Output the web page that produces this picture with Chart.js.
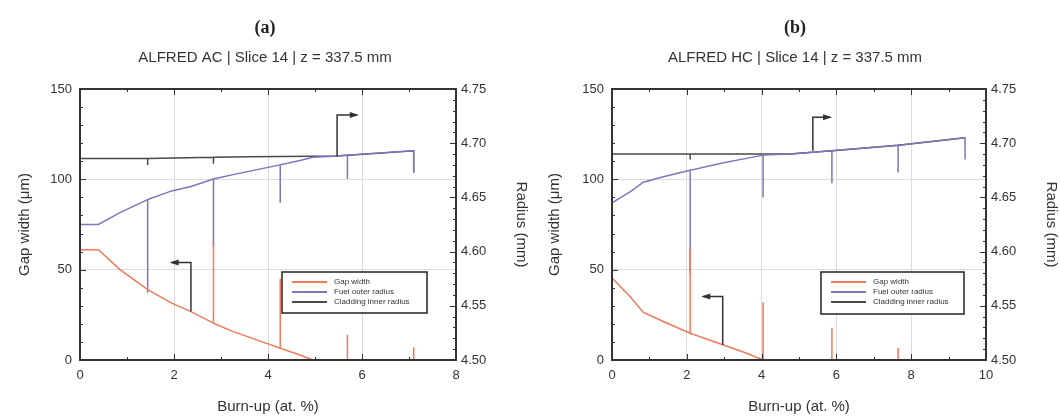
<!DOCTYPE html>
<html>
<head>
<meta charset="utf-8">
<script src="https://cdn.jsdelivr.net/npm/chart.js@4.4.1/dist/chart.umd.min.js"></script>
<style>
  html, body { margin: 0; padding: 0; background: #fff; }
  #wrap { display: flex; width: 1060px; height: 417px; }
  canvas { display: block; }
</style>
</head>
<body>
<div id="wrap">
  <canvas id="chartA" width="530" height="417"></canvas>
  <canvas id="chartB" width="530" height="417"></canvas>
</div>
<script>
// ---- (a) ALFRED AC, slice 14 ----
// burn-up (at. %) and values; repeated burn-up points are the spikes in the curves
const gapA_bu  = [0, 0.39, 0.85, 1.44, 1.95, 2.36, 2.84, 2.84, 2.84, 3.26, 4.26, 4.26, 4.26, 4.68, 4.95, 5.69, 5.69, 5.69, 7.1, 7.1];
const gapA_um  = [61, 61, 50, 38.9, 31.5, 26.8, 20.4, 65, 20.4, 15.7, 6.5, 45, 6.5, 2.8, 0, 0, 14, 0, 0, 7];
const fuelA_bu = [0, 0.39, 0.85, 1.44, 1.44, 1.44, 1.95, 2.36, 2.84, 2.84, 2.84, 3.26, 4.26, 4.26, 4.26, 4.68, 4.95, 5.4, 5.69, 5.69, 5.69, 7.1, 7.1];
const fuelA_mm = [4.625, 4.625, 4.636, 4.648, 4.562, 4.648, 4.656, 4.660, 4.667, 4.605, 4.667, 4.671, 4.680, 4.645, 4.680, 4.684, 4.687, 4.688, 4.689, 4.667, 4.689, 4.693, 4.673];
const cladA_bu = [0, 1.44, 1.44, 1.44, 2.84, 2.84, 2.84, 3.6, 4.95, 5.4, 7.1, 7.1];
const cladA_mm = [4.686, 4.686, 4.680, 4.686, 4.687, 4.681, 4.687, 4.6875, 4.688, 4.688, 4.693, 4.673];

// ---- (b) ALFRED HC, slice 14 ----
const gapB_bu  = [0, 0, 0.48, 0.84, 1.37, 2.09, 2.09, 2.09, 2.98, 3.60, 4.04, 4.04, 4.04, 5.88, 5.88, 5.88, 7.65, 7.65, 7.65, 9.44];
const gapB_um  = [51, 45.4, 35.2, 26.3, 21.3, 14.8, 62, 14.8, 8.3, 3.7, 0, 32, 0, 0, 17.8, 0, 0, 6.7, 0, 0];
const fuelB_bu = [0, 0.48, 0.84, 1.37, 2.09, 2.09, 2.09, 2.98, 3.60, 4.04, 4.04, 4.04, 4.76, 5.88, 5.88, 5.88, 7.65, 7.65, 7.65, 9.2, 9.44, 9.44];
const fuelB_mm = [4.645, 4.655, 4.664, 4.669, 4.675, 4.58, 4.675, 4.682, 4.686, 4.689, 4.65, 4.689, 4.690, 4.693, 4.663, 4.693, 4.698, 4.673, 4.698, 4.704, 4.705, 4.685];
const cladB_bu = [0, 2.09, 2.09, 2.09, 4.04, 4.76, 5.88, 7.65, 9.2, 9.44];
const cladB_mm = [4.690, 4.690, 4.685, 4.690, 4.690, 4.690, 4.693, 4.698, 4.704, 4.705];

const seriesLabels = ['Gap width', 'Fuel outer radius', 'Cladding inner radius'];
const seriesColors = ['#ef7a5c', '#7f74bd', '#4a4a4a'];

Chart.defaults.font.family = "'Liberation Sans', Arial, sans-serif";
Chart.defaults.color = '#333';

function pts(xs, ys) {
  return xs.map((x, i) => ({ x: x, y: ys[i] }));
}

// frame round the plot area, with inward minor ticks on all four sides
const framePlugin = {
  id: 'frame',
  afterDatasetsDraw(chart) {
    const { ctx, chartArea: a, scales } = chart;
    ctx.save();
    ctx.strokeStyle = '#333';
    ctx.lineWidth = 1;
    const marks = (scale, step, major, fn) => {
      for (let v = scale.min; v <= scale.max + 1e-9; v += step) {
        const r = Math.abs(v / major - Math.round(v / major)) < 1e-6;
        fn(Math.round(scale.getPixelForValue(v)) + 0.5, r ? 6 : 3);
      }
    };
    ctx.beginPath();
    marks(scales.x, 1, 2, (p, l) => {
      ctx.moveTo(p, a.bottom); ctx.lineTo(p, a.bottom - l);
      ctx.moveTo(p, a.top); ctx.lineTo(p, a.top + l);
    });
    marks(scales.y, 10, 50, (p, l) => {
      ctx.moveTo(a.left, p); ctx.lineTo(a.left + l, p);
    });
    marks(scales.y1, 0.01, 0.05, (p, l) => {
      ctx.moveTo(a.right, p); ctx.lineTo(a.right - l, p);
    });
    ctx.stroke();
    ctx.lineWidth = 2;
    ctx.strokeRect(a.left, a.top, a.right - a.left, a.bottom - a.top);
    ctx.restore();
  }
};

// L-shaped arrows telling which axis a curve belongs to
const arrowPlugin = {
  id: 'arrows',
  afterDatasetsDraw(chart, args, opts) {
    const { ctx, scales } = chart;
    ctx.save();
    ctx.strokeStyle = '#333';
    ctx.fillStyle = '#333';
    ctx.lineWidth = 1.5;
    (opts.list || []).forEach(arrow => {
      const ys = scales[arrow.axis];
      const p = arrow.pts.map(d => [scales.x.getPixelForValue(d[0]), ys.getPixelForValue(d[1])]);
      ctx.beginPath();
      ctx.moveTo(p[0][0], p[0][1]);
      for (let i = 1; i < p.length; i++) ctx.lineTo(p[i][0], p[i][1]);
      ctx.stroke();
      const [x1, y1] = p[p.length - 2];
      const [x2, y2] = p[p.length - 1];
      const ang = Math.atan2(y2 - y1, x2 - x1);
      ctx.beginPath();
      ctx.moveTo(x2 + 2 * Math.cos(ang), y2 + 2 * Math.sin(ang));
      ctx.lineTo(x2 - 7 * Math.cos(ang) + 3 * Math.sin(ang), y2 - 7 * Math.sin(ang) - 3 * Math.cos(ang));
      ctx.lineTo(x2 - 7 * Math.cos(ang) - 3 * Math.sin(ang), y2 - 7 * Math.sin(ang) + 3 * Math.cos(ang));
      ctx.closePath();
      ctx.fill();
    });
    ctx.restore();
  }
};

// boxed legend inside the plot area, lower right
const boxLegendPlugin = {
  id: 'boxLegend',
  afterDraw(chart, args, opts) {
    const { ctx, chartArea: a } = chart;
    const w = opts.width, h = opts.height;
    const x0 = a.right - opts.right - w;
    const y0 = a.bottom - opts.bottom - h;
    ctx.save();
    ctx.fillStyle = '#fff';
    ctx.fillRect(x0, y0, w, h);
    ctx.strokeStyle = '#222';
    ctx.lineWidth = 1.5;
    ctx.strokeRect(x0, y0, w, h);
    ctx.font = "8px 'Liberation Sans', Arial, sans-serif";
    ctx.textBaseline = 'middle';
    chart.data.datasets.forEach((ds, i) => {
      const y = y0 + 10 + i * 10;
      ctx.strokeStyle = ds.borderColor;
      ctx.lineWidth = 2;
      ctx.beginPath();
      ctx.moveTo(x0 + 10, y);
      ctx.lineTo(x0 + 45, y);
      ctx.stroke();
      ctx.fillStyle = '#333';
      ctx.fillText(ds.label, x0 + 52, y);
    });
    ctx.restore();
  }
};

function makeChart(id, opt) {
  const datasets = opt.series.map((s, i) => ({
    label: seriesLabels[i],
    data: pts(s[0], s[1]),
    yAxisID: i === 0 ? 'y' : 'y1',
    borderColor: seriesColors[i],
    backgroundColor: seriesColors[i],
    borderWidth: 1.5,
    pointRadius: 0,
    tension: 0,
    fill: false
  }));
  return new Chart(document.getElementById(id), {
    type: 'line',
    data: { datasets: datasets },
    plugins: [framePlugin, arrowPlugin, boxLegendPlugin],
    options: {
      responsive: false,
      animation: false,
      layout: { padding: 0 },
      plugins: {
        legend: { display: false },
        tooltip: { enabled: false },
        title: {
          display: true,
          text: opt.title,
          color: '#222',
          font: { family: "'Liberation Serif', 'DejaVu Serif', serif", size: 18, weight: 'bold', lineHeight: '20px' },
          padding: { top: 18, bottom: 0 }
        },
        subtitle: {
          display: true,
          text: opt.subtitle,
          color: '#333',
          font: { size: 15, lineHeight: '16px' },
          padding: { top: 12, bottom: 23 }
        },
        arrows: { list: opt.arrows },
        boxLegend: opt.legend
      },
      scales: {
        x: {
          type: 'linear',
          min: 0,
          max: opt.xMax,
          afterFit(s) { s.height = 57; },
          ticks: { stepSize: 2, padding: 8, font: { size: 13 }, color: '#333' },
          grid: { color: '#dcdcdc', lineWidth: 1, drawTicks: false },
          border: { display: false },
          title: { display: true, text: 'Burn-up (at. %)', font: { size: 15 }, color: '#333', padding: { top: 0, bottom: 1 } }
        },
        y: {
          position: 'left',
          min: 0,
          max: 150,
          afterFit(s) { s.width = opt.leftWidth; },
          ticks: { stepSize: 50, padding: 8, font: { size: 13 }, color: '#333' },
          grid: { color: '#dcdcdc', lineWidth: 1, drawTicks: false },
          border: { display: false },
          title: { display: true, text: 'Gap width (μm)', font: { size: 15 }, color: '#333', padding: { top: 16, bottom: 0 } }
        },
        y1: {
          position: 'right',
          min: 4.5,
          max: 4.75,
          afterFit(s) { s.width = 74; },
          ticks: { stepSize: 0.05, padding: 5, font: { size: 13 }, color: '#333', callback: v => v.toFixed(2) },
          grid: { drawOnChartArea: false, drawTicks: false },
          border: { display: false },
          title: { display: true, text: 'Radius (mm)', font: { size: 15 }, color: '#333', padding: { top: 0, bottom: 0 } }
        }
      }
    }
  });
}

makeChart('chartA', {
  title: '(a)',
  subtitle: 'ALFRED AC | Slice 14 | z = 337.5 mm',
  xMax: 8,
  leftWidth: 80,
  series: [[gapA_bu, gapA_um], [fuelA_bu, fuelA_mm], [cladA_bu, cladA_mm]],
  arrows: [
    { axis: 'y', pts: [[2.36, 26.8], [2.36, 54], [1.95, 54]] },
    { axis: 'y1', pts: [[5.47, 4.688], [5.47, 4.726], [5.89, 4.726]] }
  ],
  legend: { right: 29, bottom: 47, width: 145, height: 41 }
});

makeChart('chartB', {
  title: '(b)',
  subtitle: 'ALFRED HC | Slice 14 | z = 337.5 mm',
  xMax: 10,
  leftWidth: 82,
  series: [[gapB_bu, gapB_um], [fuelB_bu, fuelB_mm], [cladB_bu, cladB_mm]],
  arrows: [
    { axis: 'y', pts: [[2.96, 8.3], [2.96, 35.2], [2.44, 35.2]] },
    { axis: 'y1', pts: [[5.37, 4.693], [5.37, 4.724], [5.83, 4.724]] }
  ],
  legend: { right: 22, bottom: 46, width: 143, height: 42 }
});
</script>
</body>
</html>
